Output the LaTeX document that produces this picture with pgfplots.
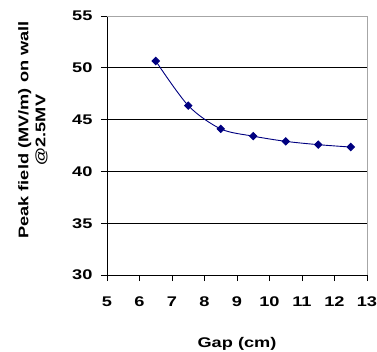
\documentclass[border=0pt]{standalone}
\usepackage{fontspec}
\setmainfont{Liberation Sans}[FakeStretch=1.3]
\usepackage{pgfplots}
\pgfplotsset{compat=1.18}
\definecolor{navy}{RGB}{0,0,128}
\newcommand{\tlf}{\fontsize{14bp}{16bp}\selectfont\bfseries}
\begin{document}
\begin{tikzpicture}
\begin{axis}[
  name=ax,
  width=260bp, height=259bp, scale only axis,
  xmin=5, xmax=13, ymin=30, ymax=55,
  xtick={5,6,...,13}, ytick={30,35,...,55},
  xticklabels={5,6,7,8,9,10,11,12,13},
  yticklabels={30,35,40,45,50,55},
  axis x line*=bottom, axis y line*=left,
  axis line style={black, line width=0.8bp},
  tick align=outside, major tick length=6bp,
  tick style={black, line width=0.8bp},
  ymajorgrids, grid style={black, line width=0.8bp},
  xlabel={Gap (cm)},
  xlabel style={font=\tlf, at={(axis description cs:0.5,0)}, anchor=center, yshift=-69bp},
  ylabel={Peak field (MV/m) on wall\\@2.5MV},
  ylabel style={font=\fontsize{14bp}{17bp}\selectfont\bfseries, align=center, at={(axis description cs:-0.285,0.56)}, anchor=center, rotate=0},
  yticklabel style={font=\tlf, xshift=-5bp},
  xticklabel style={font=\tlf, yshift=-12bp},
  clip=false,
]
\draw[gray!70, line width=0.8bp] (rel axis cs:0,1) -- (rel axis cs:1,1) -- (rel axis cs:1,0);
\addplot[navy, line width=0.9bp, smooth, mark=square*, mark size=2.6bp, mark options={rotate=45, fill=navy, draw=navy}]
coordinates {(6.5,50.66) (7.5,46.35) (8.5,44.1) (9.5,43.4) (10.5,42.9) (11.5,42.58) (12.5,42.35)};
\end{axis}
\pgfresetboundingbox
\path ([shift={(-107bp,-77bp)}]ax.south west) rectangle ([shift={(10bp,16bp)}]ax.north east);
\end{tikzpicture}
\end{document}
